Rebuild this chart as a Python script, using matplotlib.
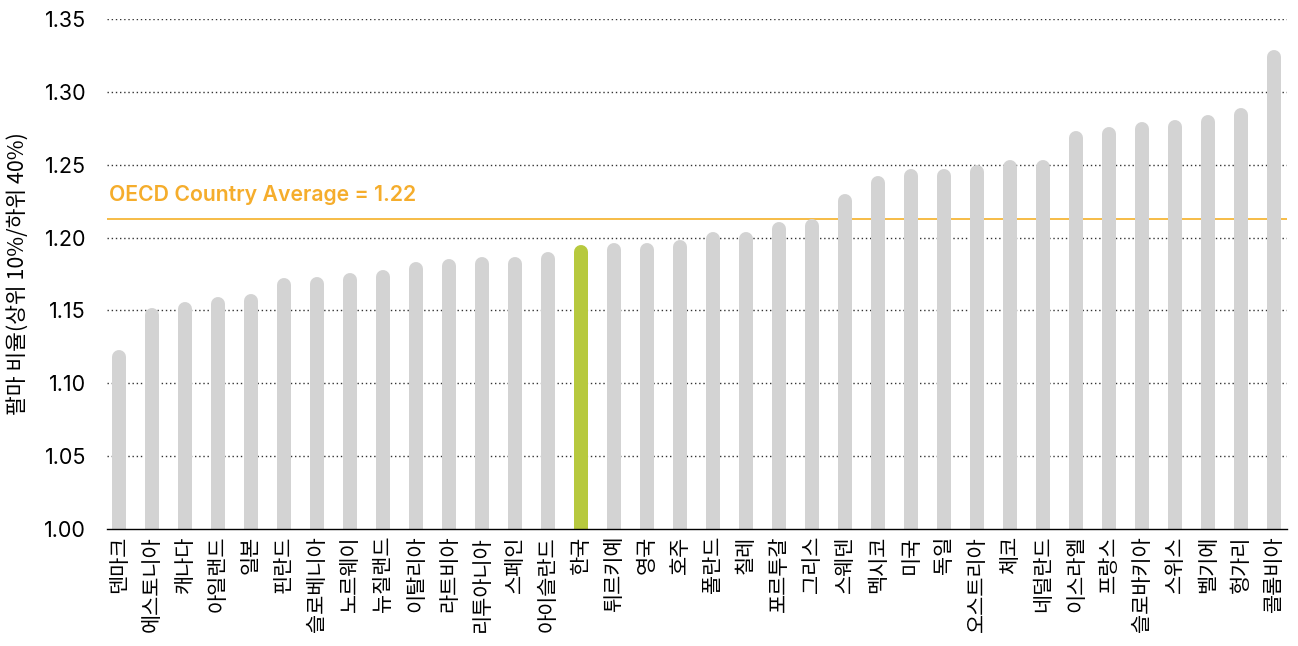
import matplotlib
matplotlib.use('Agg')
import matplotlib.pyplot as plt

plt.rcParams['font.family'] = ['Noto Sans CJK KR', 'DejaVu Sans']

# 국가별 팔마 비율
countries = ['덴마크', '에스토니아', '캐나다', '아일랜드', '일본', '핀란드', '슬로베니아',
             '노르웨이', '뉴질랜드', '이탈리아', '라트비아', '리투아니아', '스페인',
             '아이슬란드', '한국', '튀르키예', '영국', '호주', '폴란드', '칠레', '포르투갈',
             '그리스', '스웨덴', '멕시코', '미국', '독일', '오스트리아', '체코', '네덜란드',
             '이스라엘', '프랑스', '슬로바키아', '스위스', '벨기에', '헝가리', '콜롬비아']
palma = [1.123, 1.152, 1.156, 1.159, 1.161, 1.172, 1.173, 1.176, 1.178, 1.183,
         1.185, 1.187, 1.187, 1.190, 1.195, 1.196, 1.196, 1.198, 1.204, 1.204,
         1.211, 1.213, 1.230, 1.242, 1.247, 1.247, 1.250, 1.253, 1.253, 1.273,
         1.276, 1.279, 1.281, 1.284, 1.289, 1.329]
highlight = '한국'
oecd_line = 1.213
oecd_label = 'OECD Country Average = 1.22'
yticks = [1.00, 1.05, 1.10, 1.15, 1.20, 1.25, 1.30, 1.35]

fig = plt.figure(figsize=(12.98, 6.46), dpi=100)
ax = fig.add_axes([0.0824, 0.1811, 0.9091, 0.7895])
ax.set_ylim(1.0, 1.35)
ax.set_xlim(-0.36, len(countries) - 1 + 0.39)

# 둥근 막대: 선 두께(px) -> 데이터 단위 반지름
bar_px = 14
ax_h_px = ax.get_position().height * fig.get_figheight() * fig.dpi
r = (bar_px / 2) / ax_h_px * (1.35 - 1.0)
lw_pt = bar_px * 72 / fig.dpi

for i, (c, v) in enumerate(zip(countries, palma)):
    col = '#b7c93e' if c == highlight else '#d3d3d3'
    ax.plot([i, i], [0.98, v - r], color=col, lw=lw_pt,
            solid_capstyle='round', zorder=3)

for t in yticks[1:]:
    ax.axhline(t, color='#333333', lw=1, ls=(0, (1, 2)), zorder=1)

ax.axhline(oecd_line, color='#f5b027', lw=1.2, zorder=2)
ax.text(0.002, oecd_line + 0.0165, oecd_label, transform=ax.get_yaxis_transform(),
        color='#f5ad2c', fontsize=15.3, fontweight='semibold', family=['Inter', 'DejaVu Sans'],
        va='center', ha='left')

ax.set_yticks(yticks)
ax.set_yticklabels(['%.2f' % t for t in yticks], family=['Inter', 'DejaVu Sans'],
                   fontsize=15.5)
ax.set_xticks(range(len(countries)))
ax.set_xticklabels(countries, rotation=90, fontsize=15)
ax.tick_params(length=0)
ax.tick_params(axis='y', pad=15)
ax.tick_params(axis='x', pad=5)

for s in ['top', 'right', 'left']:
    ax.spines[s].set_visible(False)
ax.spines['bottom'].set_color('black')
ax.spines['bottom'].set_linewidth(1)
ax.spines['bottom'].set_zorder(4)

ax.set_ylabel('팔마 비율(상위 10%/하위 40%)', fontsize=15.5, labelpad=11)

fig.savefig('out.png', dpi=100)
